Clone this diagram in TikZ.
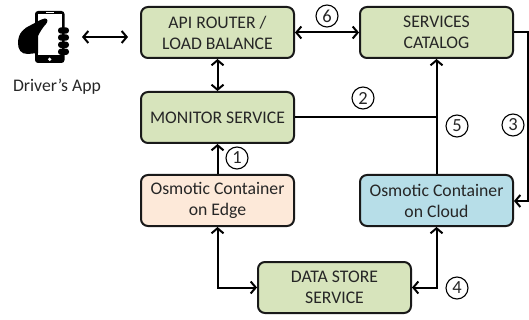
\documentclass[tikz,border=0pt]{standalone}
\usepackage{fontspec}
\setmainfont{Carlito}
\usetikzlibrary{arrows.meta}

\definecolor{boxgreen}{HTML}{D7E4BC}
\definecolor{boxpeach}{HTML}{FDE9D9}
\definecolor{boxblue}{HTML}{B7DEE8}

\tikzset{
  box/.style={draw=black!90, line width=2pt, rounded corners=7pt, minimum width=153pt,
    minimum height=51pt, align=center, inner sep=0pt,
    font=\fontsize{17.7}{21}\selectfont, text=black!85},
  num/.style={draw=black, circle, line width=1.1pt, fill=white, minimum size=22pt,
    inner sep=0pt, font=\fontsize{18.5}{20}\selectfont, text=black!85},
  link/.style={line width=2pt, draw=black},
  tip/.tip={Straight Barb[length=5pt, width=12pt, line width=2pt]},
}

\def\XL{217.5}
\def\XR{436.5}

\begin{document}
\begin{tikzpicture}[x=1pt, y=-1pt]
    \useasboundingbox (0,0) rectangle (529,320);

    % phone in the hand
    \fill[black, rounded corners=3pt] (35,11) rectangle (64.5,63);
    \fill[white] (37.5,14.5) rectangle (62,55);
    \fill[white] (45.5,12.2) rectangle (53.5,13.2);
    \fill[white] (49.7,59.3) circle (1.8);
    \fill[black] (18,43) .. controls (18,33) and (24,28) .. (31,25)
      .. controls (36,22.5) and (41,19) .. (45,18.5)
      .. controls (48,18.5) and (48,22) .. (46,24)
      .. controls (43,27) and (40,32) .. (38,36)
      -- (38,53) -- (28,54) .. controls (21,54) and (18,50) .. (18,43) -- cycle;
    \foreach \fy in {30.5,37.5,44.8,51.8}
      \fill[black, rounded corners=3pt] (58,\fy-3.2) rectangle (69,\fy+3.2);

    \node[font=\fontsize{17.7}{21}\selectfont, text=black!85] (app) at (57,87) {Driver’s App};

    \node[box, fill=boxgreen] (api) at (\XL,32.5) {API ROUTER /\\LOAD BALANCE};
    \node[box, fill=boxgreen] (monitor) at (\XL,117.5) {MONITOR SERVICE};
    \node[box, fill=boxgreen] (catalog) at (\XR,32.5) {SERVICES\\CATALOG};
    \node[box, fill=boxpeach] (edge) at (\XL,200.5) {Osmotic Container\\on Edge};
    \node[box, fill=boxblue] (cloud) at (\XR,200.5) {Osmotic Container\\on Cloud};
    \node[box, fill=boxgreen] (store) at (334.5,287.5) {DATA STORE\\SERVICE};

    \coordinate (appR) at (82,37);
    \coordinate (apiL) at (128,37);
    \coordinate (join) at (\XR,117.5);
    \coordinate (railT) at (528,32.5);
    \coordinate (railB) at (528,201);
    \coordinate (cloudR) at (514,201);

    \draw[link, tip-tip] (appR) -- (apiL);
    \draw[link, tip-tip] (api) -- (monitor);
    \draw[link, tip-tip] (api) -- (catalog);
    \draw[link, -tip] (edge) -- (monitor);
    \draw[link] (monitor) -- (join);
    \draw[link, -tip] (cloud) -- (catalog);
    \draw[link, -tip] (catalog.east) -- (railT) -- (railB) -- (cloudR);
    \draw[link, tip-tip] (edge.south) |- (store.west);
    \draw[link, tip-tip] (cloud.south) |- (store.east);

    \node[num] (n1) at (237,158) {1};
    \node[num] (n2) at (363,98) {2};
    \node[num] (n3) at (513,125) {3};
    \node[num] (n4) at (457,288) {4};
    \node[num] (n5) at (457,126) {5};
    \node[num] (n6) at (327,16) {6};
  \end{tikzpicture}
\end{document}
